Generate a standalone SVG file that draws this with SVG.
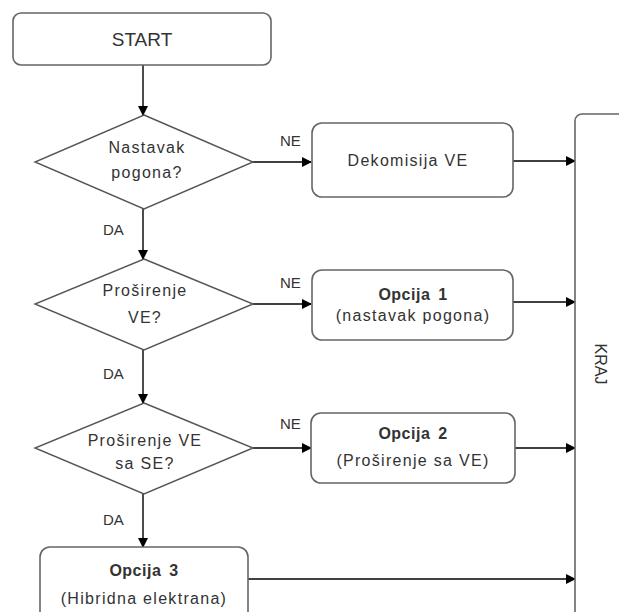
<svg xmlns="http://www.w3.org/2000/svg" width="619" height="612" viewBox="0 0 619 612">
<defs>
<marker id="ah" markerWidth="10" markerHeight="10" refX="9" refY="5" orient="auto" markerUnits="userSpaceOnUse">
<path d="M0,0 L10,5 L0,10 Z" fill="#000"/>
</marker>
<style>
.box{fill:#fff;stroke:#666;stroke-width:1.6}
.dia{fill:#fff;stroke:#555;stroke-width:1.4}
.t{font-family:"Liberation Sans",Arial,sans-serif;font-size:16px;fill:#333;text-anchor:middle;letter-spacing:1.3px}
.b{font-weight:bold;font-size:16px;letter-spacing:0.5px;word-spacing:3px}
.lbl{font-family:"Liberation Sans",Arial,sans-serif;font-size:15px;fill:#333}
.c{stroke:#000;stroke-width:1.4;fill:none;marker-end:url(#ah)}
</style>
</defs>
<rect width="619" height="612" fill="#fff"/>
<g id="connectors">
<line class="c" x1="143" y1="65" x2="143" y2="115"/>
<line class="c" x1="143" y1="209" x2="143" y2="259"/>
<line class="c" x1="143" y1="350" x2="143" y2="403"/>
<line class="c" x1="143" y1="494" x2="143" y2="547"/>
<line class="c" x1="253" y1="162" x2="311" y2="162"/>
<line class="c" x1="253" y1="304" x2="311" y2="304"/>
<line class="c" x1="253" y1="448" x2="311" y2="448"/>
<line class="c" x1="513" y1="161" x2="575" y2="161"/>
<line class="c" x1="513" y1="302" x2="575" y2="302"/>
<line class="c" x1="515" y1="448" x2="575" y2="448"/>
<line class="c" x1="248" y1="579" x2="575" y2="579"/>
<text class="lbl" x="280" y="146">NE</text>
<text class="lbl" x="280" y="288">NE</text>
<text class="lbl" x="280" y="429">NE</text>
<text class="lbl" x="103" y="235">DA</text>
<text class="lbl" x="103" y="379">DA</text>
<text class="lbl" x="103" y="525">DA</text>
</g>
<g id="start">
<rect class="box" x="13" y="13" width="258" height="52" rx="8"/>
<text class="t" x="142" y="46" style="font-size:19px;letter-spacing:0">START</text>
</g>
<g id="d1">
<polygon class="dia" points="144,115 253,162 144,209 35,162"/>
<text class="t" x="147" y="153">Nastavak</text>
<text class="t" x="147" y="178">pogona?</text>
</g>
<g id="dekomisija">
<rect class="box" x="312" y="123" width="201" height="74" rx="10"/>
<text class="t" x="408" y="166">Dekomisija VE</text>
</g>
<g id="d2">
<polygon class="dia" points="144,259 253,304 144,350 35,304"/>
<text class="t" x="145" y="296">Proširenje</text>
<text class="t" x="145" y="323">VE?</text>
</g>
<g id="opcija1">
<rect class="box" x="312" y="270" width="201" height="70" rx="10"/>
<text class="t b" x="413" y="300">Opcija 1</text>
<text class="t" x="413" y="321">(nastavak pogona)</text>
</g>
<g id="d3">
<polygon class="dia" points="144,403 253,448 144,494 35,448"/>
<text class="t" x="145" y="446">Proširenje VE</text>
<text class="t" x="145" y="469">sa SE?</text>
</g>
<g id="opcija2">
<rect class="box" x="311" y="413" width="204" height="70" rx="10"/>
<text class="t b" x="413" y="439">Opcija 2</text>
<text class="t" x="413" y="466">(Proširenje sa VE)</text>
</g>
<g id="opcija3">
<rect class="box" x="40" y="547" width="208" height="75" rx="10"/>
<text class="t b" x="144" y="576">Opcija 3</text>
<text class="t" x="144" y="604">(Hibridna elektrana)</text>
</g>
<g id="kraj">
<rect class="box" x="575" y="114" width="70" height="520" rx="7"/>
<text class="t" x="0" y="0" transform="translate(595,364) rotate(90)" style="letter-spacing:0">KRAJ</text>
</g>
</svg>
